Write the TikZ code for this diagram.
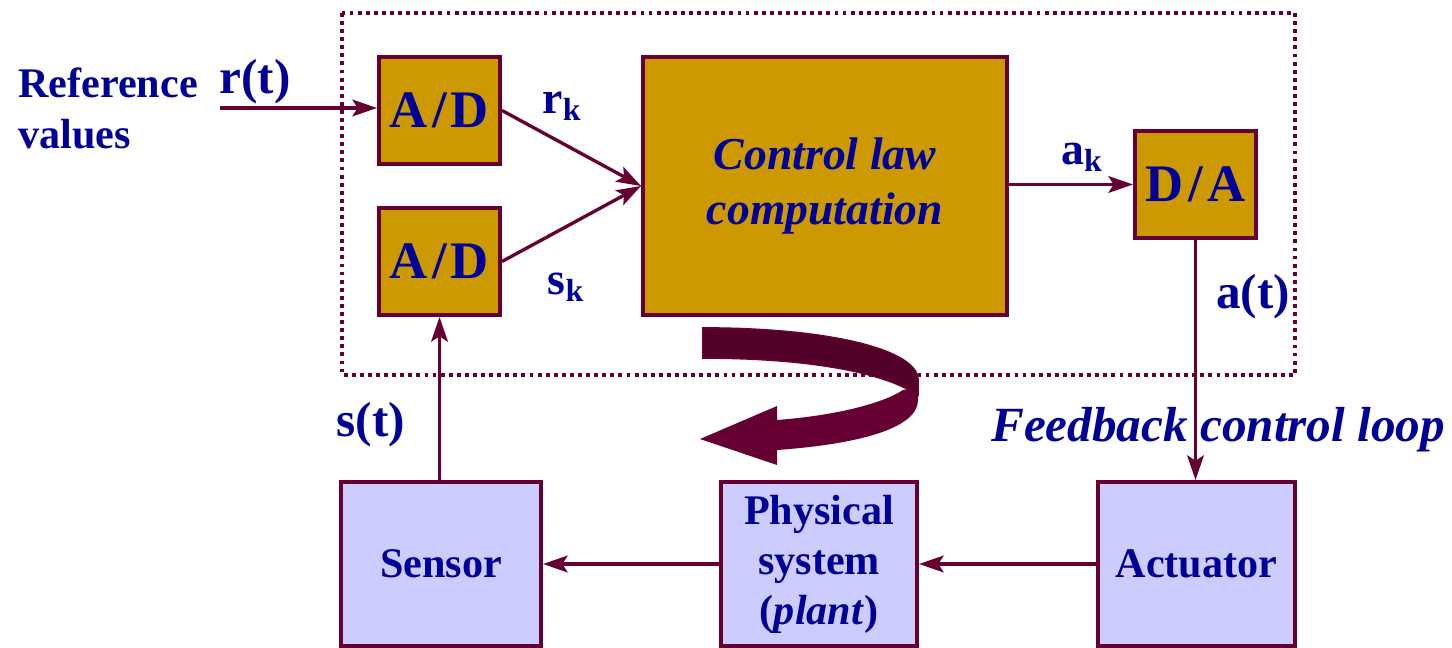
\documentclass[tikz,border=0pt]{standalone}
\usepackage{fontspec}
\setmainfont{LiberationSerif}[Extension=.ttf,UprightFont=*-Regular,BoldFont=*-Bold,
  ItalicFont=*-Italic,BoldItalicFont=*-BoldItalic]
\usetikzlibrary{arrows.meta}
\definecolor{wine}{HTML}{660033}
\definecolor{winedark}{HTML}{52002A}
\definecolor{gold}{HTML}{CC9900}
\definecolor{lav}{HTML}{CCCCFF}
\definecolor{ink}{HTML}{000099}
\tikzset{
  px/.style={x=0.02cm,y=-0.02cm},
  goldbox/.style={draw=wine,line width=2.3pt,fill=gold,inner sep=0pt,text=ink,
    font=\bfseries\fontsize{30}{32}\selectfont\addfontfeatures{LetterSpace=8}},
  lavbox/.style={draw=wine,line width=2.3pt,fill=lav,inner sep=0pt,text=ink,align=center,
    font=\bfseries\fontsize{24}{28.5}\selectfont},
  wire/.style={draw=wine,line width=1.9pt,-{Stealth[length=14pt,width=9.5pt,inset=3pt]}},
  lbl/.style={text=ink,font=\bfseries\fontsize{28}{30}\selectfont,inner sep=0pt},
}
\begin{document}
\begin{tikzpicture}[px]
\useasboundingbox (0,0) rectangle (1452,648);
% computer boundary
\draw[wine,line width=2.2pt,dash pattern=on 2.2pt off 2.4pt] (342,13) rectangle (1295,375);
% digital side
\node[goldbox,minimum width=2.42cm,minimum height=2.14cm] (adr) at (439.5,110.5) {A/D};
\node[goldbox,minimum width=2.42cm,minimum height=2.14cm] (ads) at (439.5,261.5) {A/D};
\node[goldbox,minimum width=7.28cm,minimum height=5.16cm,align=center,
  font=\bfseries\itshape\fontsize{26}{31}\selectfont] (ctl) at (825,186) {Control law\\computation};
\node[goldbox,minimum width=2.42cm,minimum height=2.14cm] (da) at (1195.5,184.5) {D/A};
% plant side
\node[lavbox,minimum width=4.0cm,minimum height=3.28cm] (sen) at (441,564) {Sensor};
\node[lavbox,minimum width=3.92cm,minimum height=3.28cm] (pla) at (819,564) {Physical\\system\\(\textit{plant})};
\node[lavbox,minimum width=3.94cm,minimum height=3.28cm] (act) at (1196.5,564) {Actuator};
% input
\coordinate (rin) at (220,108);
\node[text=ink,font=\bfseries\fontsize{24}{29}\selectfont,align=left,anchor=west,inner sep=0pt] (reflbl) at (18,108) {Reference\\values};
% connectors
\draw[wire] (rin) -- (adr.west |- rin);
\draw[wire] (adr.east) -- (ctl.west);
\draw[wire] (ads.east) -- (ctl.west);
\draw[wire] (ctl.east |- da.west) -- (da.west);
\draw[wire] (da.south) -- (act.north -| da.south);
\draw[wire] (act.west) -- (pla.east);
\draw[wire] (pla.west) -- (sen.east);
\draw[wire] (sen.north -| ads.south) -- (ads.south);
% signal labels
\node[lbl] (rt) at (255,82) {r(t)};
\node[lbl,font=\bfseries\fontsize{26}{28}\selectfont] (rk) at (562,106) {r$_{\mathbf{k}}$};
\node[lbl,font=\bfseries\fontsize{26}{28}\selectfont] (sk) at (566,287) {s$_{\mathbf{k}}$};
\node[lbl,font=\bfseries\fontsize{26}{28}\selectfont] (ak) at (1082,157) {a$_{\mathbf{k}}$};
\node[lbl] (at) at (1253,297) {a(t)};
\node[lbl] (st) at (371,425) {s(t)};
\node[lbl,font=\bfseries\itshape\fontsize{28}{30}\selectfont] (loop) at (1218,430) {Feedback control loop};
% loop arrow (ribbon): lower band with head, then the darker upper band
\fill[wine] (903,390) .. controls (880,405) and (830,416) .. (777,420) -- (777,406) -- (700,439)
  -- (777,465) -- (777,450) .. controls (860,444) and (918,428) .. (918,400) -- (918,378)
  .. controls (918,385) and (912,388) .. cycle;
\filldraw[fill=winedark,draw=wine,line width=1pt] (703,328) .. controls (830,328) and (918,350) .. (918,380)
  -- (918,395) .. controls (880,370) and (800,358) .. (703,358) -- cycle;
\end{tikzpicture}
\end{document}
